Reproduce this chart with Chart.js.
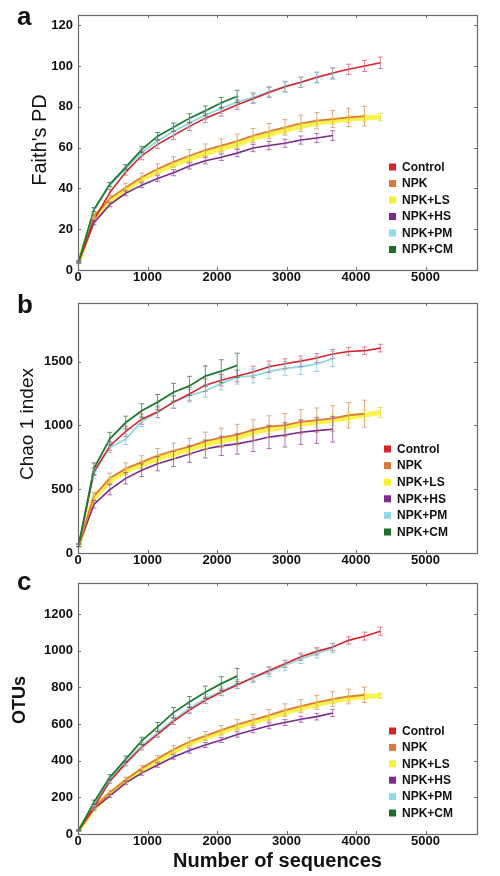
<!DOCTYPE html>
<html><head><meta charset="utf-8">
<script src="https://cdn.jsdelivr.net/npm/chart.js@4.4.1/dist/chart.umd.min.js"></script>
<style>
html,body{margin:0;padding:0;background:#fff;}
#wrap{position:relative;width:500px;height:876px;overflow:hidden;background:#fff;}
.panel{position:absolute;left:0;width:500px;}
canvas{display:block;}
</style></head><body>
<div id="wrap">
<div class="panel" style="top:0;height:290px"><canvas id="ca" width="500" height="290"></canvas></div>
<div class="panel" style="top:290px;height:280px"><canvas id="cb" width="500" height="280"></canvas></div>
<div class="panel" style="top:570px;height:306px"><canvas id="cc" width="500" height="306"></canvas></div>
</div>
<script>
// ---------- DATA ----------
const seriesNames = ['Control', 'NPK', 'NPK+LS', 'NPK+HS', 'NPK+PM', 'NPK+CM'];
const depths = [10, 229, 458, 687, 916, 1145, 1374, 1603, 1832, 2061, 2290, 2519, 2748, 2977, 3206, 3435, 3664, 3893, 4122, 4351];
const xTicks = [0, 1000, 2000, 3000, 4000, 5000];
const faithTicks = [0, 20, 40, 60, 80, 100, 120];
const chaoTicks = [0, 500, 1000, 1500];
const otuTicks = [0, 200, 400, 600, 800, 1000, 1200];

// Panel a: Faith's PD
const faithControl = [4, 24.5, 38, 48, 56, 61.6, 66, 70.4, 74.4, 77.6, 81, 84, 87, 89.8, 92, 94.5, 96.6, 98.4, 100, 101.6];
const faithNPK     = [4, 26.4, 35, 40.5, 45.5, 49.5, 53, 56, 58.8, 61, 63.2, 65.9, 68, 69.9, 71.9, 73.2, 74, 74.8, 75.4];
const faithLS      = [4, 25.5, 34, 39.5, 44.5, 48.3, 51.5, 54.5, 57, 59.5, 61.6, 64.5, 66.5, 68.5, 70.5, 72, 73, 74, 74.5, 75];
const faithHS      = [4, 23.2, 32, 37.6, 41.6, 44.8, 47.7, 51, 53.6, 55.3, 57.3, 59.8, 61, 62.1, 63.7, 64.7, 65.9];
const faithPM      = [4, 29.3, 41.6, 49.6, 57.6, 63.2, 68, 72, 76, 79.2, 82.4, 84.5, 87.5, 90, 92, 94.3, 96.3];
const faithCM      = [4, 29.6, 42, 50.4, 59, 65.6, 70, 74.4, 78, 82, 85.1];
const faithControlErr = [0.5, 1, 1.5, 1.5, 2, 2, 2, 2, 2.2, 2.2, 2.3, 2.3, 2.5, 2.5, 2.5, 2.5, 2.5, 2.5, 2.7, 2.8];
const faithNPKErr     = [0.5, 1, 1.5, 2, 2, 2.5, 2.5, 3, 3, 3.2, 3.5, 3.5, 3.8, 3.8, 4, 4, 4.2, 4.5, 4.8];
const faithLSErr      = [0.5, 0.5, 0.8, 1, 1, 1, 1, 1.2, 1.2, 1.2, 1.3, 1.3, 1.4, 1.5, 1.5, 1.5, 1.5, 1.6, 1.6, 1.8];
const faithHSErr      = [0.5, 1, 1, 1.2, 1.2, 1.4, 1.5, 1.5, 1.6, 1.6, 1.8, 1.8, 2, 2, 2, 2.2, 2.4];
const faithPMErr      = [0.5, 1, 1.2, 1.5, 1.8, 2, 2, 2.2, 2.2, 2.4, 2.5, 2.5, 2.5, 2.5, 2.6, 2.6, 2.8];
const faithCMErr      = [0.5, 1, 1, 1.2, 1.5, 1.8, 2, 2.2, 2.4, 2.6, 3];

// Panel b: Chao 1 index
const chaoControl = [60, 636, 839, 953, 1048, 1106, 1182, 1246, 1315, 1353, 1386, 1418, 1459, 1482, 1503, 1528, 1559, 1579, 1585, 1605];
const chaoNPK     = [60, 445, 585, 661, 712, 763, 801, 834, 877, 903, 928, 964, 990, 1002, 1028, 1041, 1054, 1079, 1092];
const chaoLS      = [60, 432, 564, 641, 692, 737, 775, 814, 852, 877, 903, 945, 970, 985, 1010, 1025, 1040, 1060, 1080, 1100];
const chaoHS      = [60, 381, 496, 585, 648, 699, 737, 775, 814, 839, 855, 880, 908, 925, 946, 959, 969];
const chaoPM      = [60, 623, 826, 890, 1030, 1098, 1182, 1233, 1271, 1327, 1378, 1387, 1420, 1446, 1459, 1482, 1520];
const chaoCM      = [60, 661, 895, 1022, 1114, 1182, 1259, 1309, 1386, 1424, 1470];
const chaoControlErr = [10, 30, 35, 40, 40, 45, 50, 50, 50, 45, 45, 45, 45, 40, 40, 35, 35, 30, 30, 30];
const chaoNPKErr     = [10, 30, 40, 45, 50, 55, 60, 65, 70, 75, 80, 80, 85, 90, 95, 95, 100, 100, 105];
const chaoLSErr      = [10, 20, 25, 25, 30, 30, 30, 30, 35, 35, 35, 35, 35, 35, 35, 40, 40, 40, 40, 40];
const chaoHSErr      = [10, 30, 40, 45, 50, 55, 60, 65, 70, 75, 80, 85, 90, 95, 95, 100, 100];
const chaoPMErr      = [10, 40, 40, 40, 40, 40, 45, 50, 50, 50, 55, 55, 55, 55, 60, 60, 60];
const chaoCMErr      = [10, 45, 50, 50, 55, 60, 70, 75, 80, 90, 95];

// Panel c: OTUs
const otuControl = [20, 146, 288, 385, 473, 543, 614, 676, 729, 773, 813, 853, 892, 928, 967, 996, 1020, 1056, 1079, 1106];
const otuNPK     = [20, 146, 226, 296, 358, 411, 461, 503, 535, 566, 596, 622, 647, 676, 697, 718, 736, 750, 759];
const otuLS      = [20, 140, 218, 287, 348, 400, 450, 493, 525, 556, 585, 610, 635, 662, 685, 706, 725, 740, 750, 754];
const otuHS      = [20, 138, 208, 279, 332, 376, 420, 455, 485, 513, 543, 567, 590, 608, 626, 640, 660];
const otuPM      = [20, 164, 296, 394, 482, 552, 623, 685, 738, 778, 817, 850, 884, 919, 955, 985, 1013];
const otuCM      = [20, 173, 309, 408, 508, 584, 662, 720, 773, 820, 861];
const otuControlErr = [3, 10, 12, 14, 15, 16, 17, 18, 18, 18, 19, 20, 20, 20, 20, 20, 20, 20, 22, 22];
const otuNPKErr     = [3, 10, 12, 14, 16, 18, 20, 22, 24, 26, 28, 30, 32, 34, 36, 38, 40, 40, 42];
const otuLSErr      = [3, 6, 8, 8, 10, 10, 10, 10, 12, 12, 12, 12, 12, 14, 14, 14, 14, 15, 15, 15];
const otuHSErr      = [3, 8, 10, 10, 12, 12, 12, 14, 14, 14, 15, 15, 16, 16, 16, 18, 20];
const otuPMErr      = [3, 10, 14, 16, 18, 20, 22, 22, 24, 24, 25, 25, 25, 25, 25, 25, 25];
const otuCMErr      = [3, 12, 15, 18, 20, 24, 28, 30, 34, 38, 42];

// ---------- STYLE ----------
const lineColors = ['#d5262d', '#e07a35', 'rgba(250,242,60,0.9)', '#7a2a8b', '#8fd8e6', '#1f7a30'];
const errColors  = ['rgba(214,80,110,0.7)', 'rgba(205,145,90,0.75)', 'rgba(225,215,70,0.75)', 'rgba(150,70,160,0.75)', 'rgba(120,200,215,0.8)', 'rgba(50,115,60,0.75)'];
const legendColors = ['#d8232a', '#d9793a', '#f5f232', '#7c2d8c', '#8fdbe8', '#1c6e2a'];
const lineWidths = [1.6, 1.8, 5, 1.6, 1.8, 1.8];
const drawOrder = [1, 3, 5, 4, 2, 0];
const FONT = "'Liberation Sans', Arial, sans-serif";

function makeDatasets(values, errors) {
  return seriesNames.map((name, i) => ({
    label: name,
    data: values[i].map((v, j) => ({ x: depths[j], y: v })),
    errors: errors[i],
    errColor: errColors[i],
    borderColor: lineColors[i],
    backgroundColor: lineColors[i],
    borderWidth: lineWidths[i],
    pointRadius: 0,
    tension: 0,
    fill: false,
    order: drawOrder[i]
  }));
}

const errorBarPlugin = {
  id: 'errbars',
  afterDatasetsDraw(chart) {
    const { ctx } = chart; const x = chart.scales.x, y = chart.scales.y;
    ctx.save();
    ctx.lineWidth = 1;
    chart.data.datasets.forEach(ds => {
      ctx.strokeStyle = ds.errColor;
      ds.data.forEach((p, j) => {
        const e = ds.errors[j];
        const px = x.getPixelForValue(p.x);
        const pt = y.getPixelForValue(p.y + e), pb = y.getPixelForValue(p.y - e);
        ctx.beginPath();
        ctx.moveTo(px, pt); ctx.lineTo(px, pb);
        ctx.moveTo(px - 2.5, pt); ctx.lineTo(px + 2.5, pt);
        ctx.moveTo(px - 2.5, pb); ctx.lineTo(px + 2.5, pb);
        ctx.stroke();
      });
    });
    ctx.restore();
  }
};

const framePlugin = {
  id: 'frame',
  afterDraw(chart) {
    const { ctx, chartArea: a } = chart; const x = chart.scales.x, y = chart.scales.y;
    const o = chart.options.plugins.panelDeco;
    ctx.save();
    ctx.strokeStyle = '#6a6a6a'; ctx.lineWidth = 1.2;
    ctx.strokeRect(Math.round(a.left) + 0.5, Math.round(a.top) + 0.5, Math.round(a.right - a.left), Math.round(a.bottom - a.top));
    ctx.lineWidth = 1;
    x.ticks.forEach(t => {
      const px = Math.round(x.getPixelForValue(t.value)) + 0.5;
      ctx.beginPath(); ctx.moveTo(px, a.top); ctx.lineTo(px, a.top + 3);
      ctx.moveTo(px, a.bottom); ctx.lineTo(px, a.bottom - 3); ctx.stroke();
    });
    y.ticks.forEach(t => {
      const py = Math.round(y.getPixelForValue(t.value)) + 0.5;
      ctx.beginPath(); ctx.moveTo(a.left, py); ctx.lineTo(a.left + 3, py);
      ctx.moveTo(a.right, py); ctx.lineTo(a.right - 3, py); ctx.stroke();
    });
    // panel letter
    ctx.fillStyle = '#111';
    ctx.textBaseline = 'alphabetic'; ctx.textAlign = 'left';
    ctx.font = 'bold 26px ' + FONT;
    ctx.fillText(o.letter, o.letterX, o.letterY);
    // y title
    ctx.save();
    ctx.translate(o.titleX, o.titleY); ctx.rotate(-Math.PI / 2);
    ctx.font = o.titleFont; ctx.textAlign = 'center'; ctx.textBaseline = 'middle';
    ctx.fillText(o.title, 0, 0);
    ctx.restore();
    // x title
    if (o.xTitle) {
      ctx.font = 'bold 20px ' + FONT; ctx.textAlign = 'center'; ctx.textBaseline = 'alphabetic';
      ctx.fillText(o.xTitle, (a.left + a.right) / 2, o.xTitleY);
    }
    // legend
    ctx.font = 'bold 12px ' + FONT; ctx.textAlign = 'left'; ctx.textBaseline = 'middle';
    seriesNames.forEach((n, i) => {
      const cy = o.legY + i * o.legStep;
      ctx.fillStyle = legendColors[i];
      ctx.fillRect(o.legSqX, cy - 3.5, 7, 7);
      ctx.fillStyle = '#111';
      ctx.fillText(n, o.legTextX, cy + 0.5);
    });
    ctx.restore();
  }
};

function makeChart(id, values, errors, yMax, yTicks, chartTop, xH, deco) {
  return new Chart(document.getElementById(id), {
    type: 'line',
    data: { datasets: makeDatasets(values, errors) },
    options: {
      responsive: false, animation: false, events: [],
      layout: { padding: { top: chartTop, right: 23, left: 0, bottom: 0 } },
      plugins: { legend: { display: false }, tooltip: { enabled: false }, panelDeco: deco },
      scales: {
        x: {
          type: 'linear', min: 0, max: 5740,
          grid: { display: false, drawTicks: false }, border: { display: false },
          afterBuildTicks(s) { s.ticks = xTicks.map(v => ({ value: v })); },
          ticks: { color: '#111', font: { family: FONT, weight: 'bold', size: 13 }, padding: 0, maxRotation: 0, autoSkip: false,
                   callback: v => String(v) },
          afterFit(s) { s.height = xH; }
        },
        y: {
          type: 'linear', min: 0, max: yMax,
          grid: { display: false, drawTicks: false }, border: { display: false },
          afterBuildTicks(s) { s.ticks = yTicks.map(v => ({ value: v })); },
          ticks: { color: '#111', font: { family: FONT, weight: 'bold', size: 13 }, padding: 5, autoSkip: false,
                   callback: v => String(v) },
          afterFit(s) { s.width = 78; }
        }
      }
    },
    plugins: [errorBarPlugin, framePlugin]
  });
}

makeChart('ca',
  [faithControl, faithNPK, faithLS, faithHS, faithPM, faithCM],
  [faithControlErr, faithNPKErr, faithLSErr, faithHSErr, faithPMErr, faithCMErr],
  125, faithTicks, 15, 20,
  { letter: 'a', letterX: 17, letterY: 25, title: "Faith's PD", titleFont: '20px ' + FONT, titleX: 40, titleY: 140,
    legSqX: 389, legTextX: 402, legY: 167, legStep: 16.5 });

makeChart('cb',
  [chaoControl, chaoNPK, chaoLS, chaoHS, chaoPM, chaoCM],
  [chaoControlErr, chaoNPKErr, chaoLSErr, chaoHSErr, chaoPMErr, chaoCMErr],
  1960, chaoTicks, 7, 17,
  { letter: 'b', letterX: 17, letterY: 23, title: 'Chao 1 index', titleFont: '19px ' + FONT, titleX: 28, titleY: 134,
    legSqX: 384, legTextX: 397, legY: 159, legStep: 16.6 });

makeChart('cc',
  [otuControl, otuNPK, otuLS, otuHS, otuPM, otuCM],
  [otuControlErr, otuNPKErr, otuLSErr, otuHSErr, otuPMErr, otuCMErr],
  1370, otuTicks, 7, 42,
  { letter: 'c', letterX: 17, letterY: 20, title: 'OTUs', titleFont: 'bold 18px ' + FONT, titleX: 20, titleY: 130,
    legSqX: 389, legTextX: 402, legY: 161, legStep: 16.4, xTitle: 'Number of sequences', xTitleY: 297 });
</script>
</body></html>
